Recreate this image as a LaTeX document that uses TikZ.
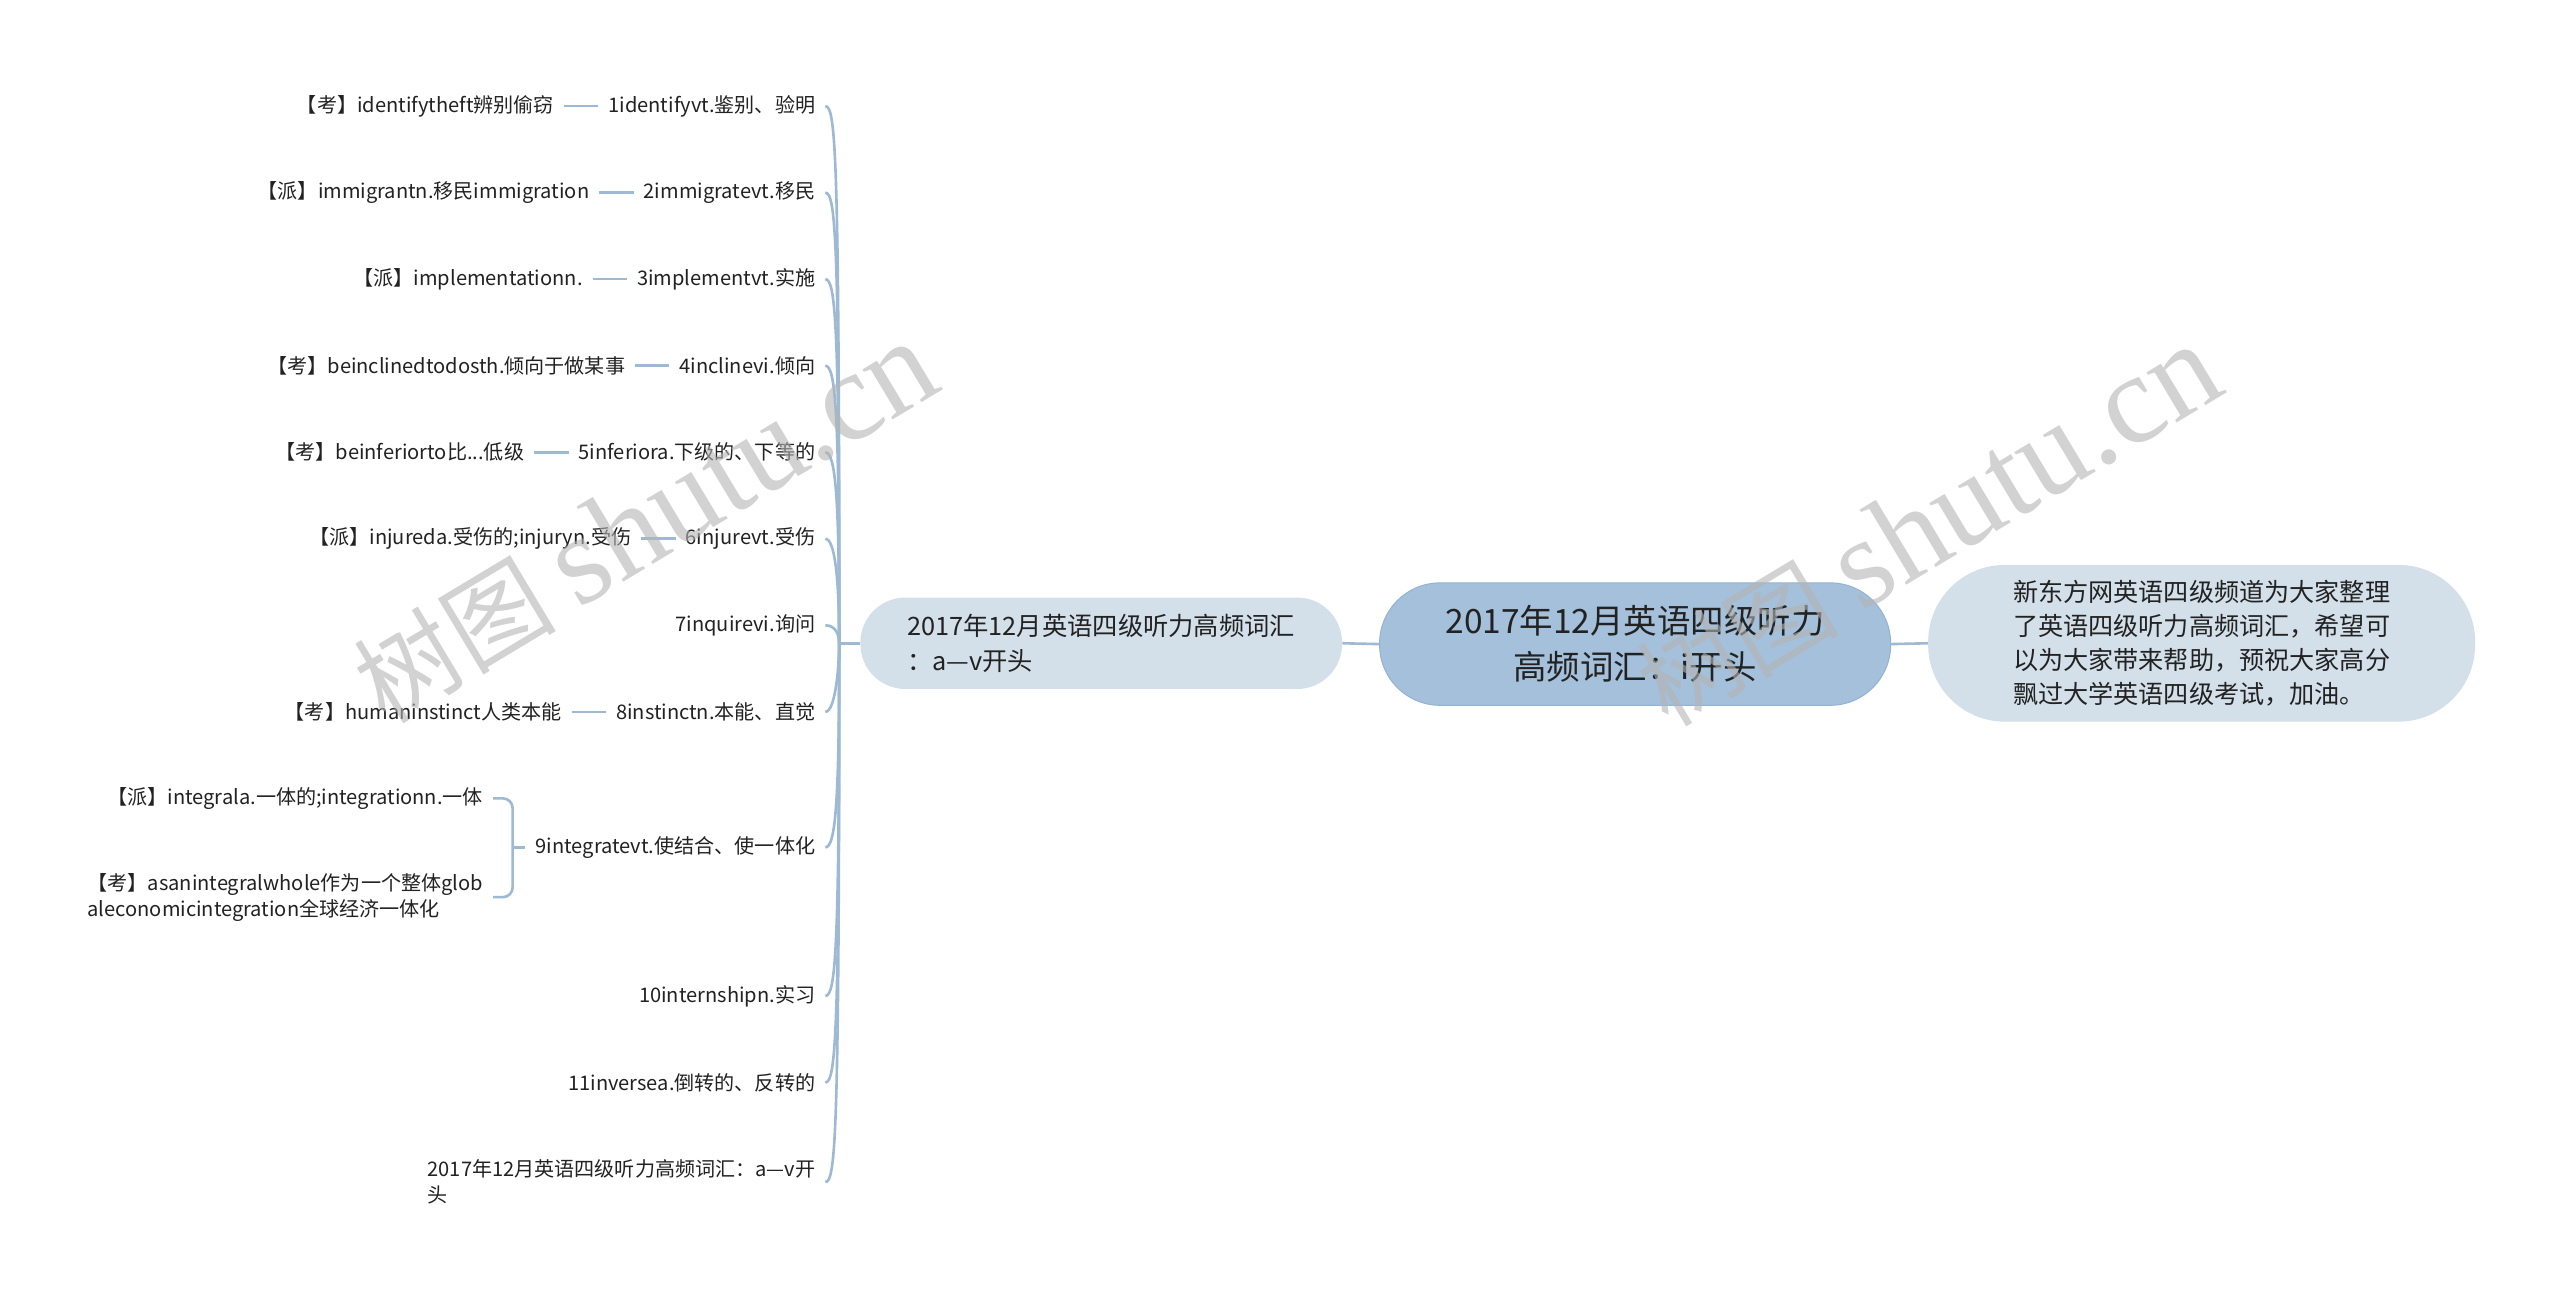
\documentclass[tikz,border=0pt]{standalone}
\usepackage{fontspec}
\setmainfont{Noto Sans CJK SC}
\newfontfamily\wmserif{Liberation Serif}
\definecolor{lnc}{HTML}{9DB9D3}
\definecolor{rootc}{HTML}{A4C0DA}
\definecolor{rootb}{HTML}{93B3D2}
\definecolor{subc}{HTML}{D3E0EA}
\definecolor{txt}{HTML}{222222}
\definecolor{wm}{HTML}{B4B4B4}
\begin{document}
\begin{tikzpicture}[x=1pt,y=-1pt,
  leaf/.style={inner xsep=6pt, inner ysep=2pt, font=\fontsize{12.3}{16}\selectfont, text=txt, anchor=east, align=right},
  leafl/.style={leaf, align=left},
  conn/.style={draw=lnc, line width=1.6pt},
  rootbox/.style={rectangle, rounded corners=37pt, minimum width=313pt, minimum height=75pt, fill=rootc, draw=rootb, line width=0.6pt, font=\fontsize{20.5}{28}\selectfont, text=txt, align=center, inner sep=0pt},
  subbox/.style={rectangle, fill=subc, text=txt, align=left, inner sep=0pt},
  wmark/.style={text=wm, opacity=0.6, inner sep=0pt, font=\fontsize{62}{64}\selectfont}
]
\useasboundingbox (0,0) rectangle (1568,795.7);
\fill[white] (0,0) rectangle (1568,795.7);

% main nodes
\node[rootbox] (root) at (1001.5,394.5) {2017年12月英语四级听力\\高频词汇：i开头};
\node[subbox, minimum width=335pt, minimum height=96pt, rounded corners=47pt, font=\fontsize{15.4}{20.7}\selectfont] (note) at (1348.5,394) {新东方网英语四级频道为大家整理\\了英语四级听力高频词汇，希望可\\以为大家带来帮助，预祝大家高分\\飘过大学英语四级考试，加油。};
\node[subbox, minimum width=295pt, minimum height=56pt, rounded corners=27.5pt, font=\fontsize{15.5}{21}\selectfont] (left) at (674.5,394) {2017年12月英语四级听力高频词汇\\：a—v开头};

\draw[conn] (root.east) -- (note.west);
\draw[conn] (left.east) -- (root.west);

% children
\node[leaf] (c1) at (505.5,65) {1identifyvt.鉴别、验明};
\node[leaf] (c2) at (505.5,118) {2immigratevt.移民};
\node[leaf] (c3) at (505.5,171) {3implementvt.实施};
\node[leaf] (c4) at (505.5,224) {4inclinevi.倾向};
\node[leaf] (c5) at (505.5,277) {5inferiora.下级的、下等的};
\node[leaf] (c6) at (505.5,330) {6injurevt.受伤};
\node[leaf] (c7) at (505.5,383) {7inquirevi.询问};
\node[leaf] (c8) at (505.5,436) {8instinctn.本能、直觉};
\node[leaf] (c9) at (505.5,519) {9integratevt.使结合、使一体化};
\node[leaf] (c10) at (505.5,610) {10internshipn.实习};
\node[leaf] (c11) at (505.5,663) {11inversea.倒转的、反转的};
\node[leafl] (c12) at (505.5,724) {2017年12月英语四级听力高频词汇：a—v开\\头};

% grandchildren
\node[leaf] (g1) at ([xshift=-21pt]c1.west) {【考】identifytheft辨别偷窃};
\node[leaf] (g2) at ([xshift=-21pt]c2.west) {【派】immigrantn.移民immigration};
\node[leaf] (g3) at ([xshift=-21pt]c3.west) {【派】implementationn.};
\node[leaf] (g4) at ([xshift=-21pt]c4.west) {【考】beinclinedtodosth.倾向于做某事};
\node[leaf] (g5) at ([xshift=-21pt]c5.west) {【考】beinferiorto比...低级};
\node[leaf] (g6) at ([xshift=-21pt]c6.west) {【派】injureda.受伤的;injuryn.受伤};
\node[leaf] (g8) at ([xshift=-21pt]c8.west) {【考】humaninstinct人类本能};
\node[leafl] (g9a) at (302,489) {【派】integrala.一体的;integrationn.一体};
\node[leafl] (g9b) at (302,549.5) {【考】asanintegralwhole作为一个整体glob\\aleconomicintegration全球经济一体化};

\foreach \i in {1,2,3,4,5,6,8} {\draw[conn] (g\i.east) -- (c\i.west);}

\coordinate (b9) at (314,519);
\draw[conn] (c9.west) -- (b9);
\draw[conn, rounded corners=6pt] (g9a.east) -- (314,489) -- (314,549.5) -- (g9b.east);

% spine
\coordinate (sp) at (514,394);
\draw[conn] (left.west) -- (sp);
\draw[conn] (sp) .. controls (514,95) and (512,65) .. (c1.east);
\draw[conn] (sp) .. controls (514,148) and (512,118) .. (c2.east);
\draw[conn] (sp) .. controls (514,201) and (512,171) .. (c3.east);
\draw[conn] (sp) .. controls (514,254) and (512,224) .. (c4.east);
\draw[conn] (sp) .. controls (514,307) and (512,277) .. (c5.east);
\draw[conn] (sp) .. controls (514,360) and (512,330) .. (c6.east);
\draw[conn] (sp) .. controls (514,389) and (512,383) .. (c7.east);
\draw[conn] (sp) .. controls (514,406) and (512,436) .. (c8.east);
\draw[conn] (sp) .. controls (514,489) and (512,519) .. (c9.east);
\draw[conn] (sp) .. controls (514,580) and (512,610) .. (c10.east);
\draw[conn] (sp) .. controls (514,633) and (512,663) .. (c11.east);
\draw[conn] (sp) .. controls (514,694) and (512,724) .. (c12.east);

% watermarks
\node[wmark, rotate=31] (wm1) at (395,320) {树图 {\wmserif\fontsize{78}{78}\selectfont shutu.cn}};
\node[wmark, rotate=31] (wm2) at (1181,322) {树图 {\wmserif\fontsize{78}{78}\selectfont shutu.cn}};
\end{tikzpicture}
\end{document}
